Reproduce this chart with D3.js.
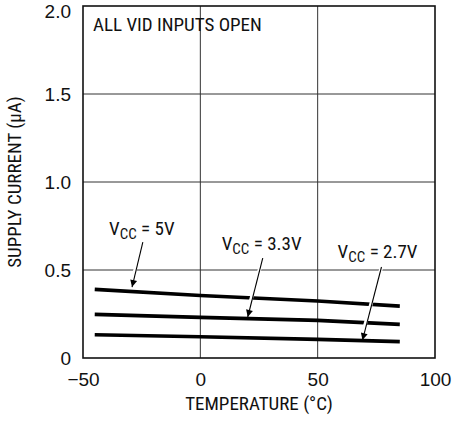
<!DOCTYPE html>
<html>
<head>
<meta charset="utf-8">
<script src="https://cdn.jsdelivr.net/npm/d3@7"></script>
<style>
  html, body { margin: 0; padding: 0; background: #fff; }
  svg text { font-family: "Liberation Sans Narrow", "Arial Narrow", "Roboto Condensed", sans-serif; fill: #111; }
</style>
</head>
<body>
<svg id="chart" width="452" height="421"></svg>
<script>
// ---- data ----
const temps = [-45, 0, 50, 85];
const vcc5 = [0.39, 0.355, 0.324, 0.295];
const vcc33 = [0.248, 0.231, 0.214, 0.191];
const vcc27 = [0.132, 0.121, 0.106, 0.093];
const seriesNames = ["5V", "3.3V", "2.7V"];
const xTicks = [-50, 0, 50, 100];
const yTicks = [0, 0.5, 1.0, 1.5, 2.0];
const yTickLabels = ["0", "0.5", "1.0", "1.5", "2.0"];
const xTickLabels = ["\u221250", "0", "50", "100"];
// annotation anchors in data units: label (temp, current), arrow start, arrow tip
const labelAt = [[-38.9, 0.70], [9.1, 0.614], [58.5, 0.568]];
const arrowFrom = [[-24.5, 0.659], [26.6, 0.568], [77.2, 0.517]];
const arrowTo = [[-29.1, 0.403], [20.2, 0.233], [69.1, 0.102]];

const svg = d3.select("#chart");
const margin = { left: 83, top: 6, right: 17, bottom: 63 };
const W = 452, H = 421;
const x = d3.scaleLinear().domain([-50, 100]).range([margin.left, W - margin.right]);
const y = d3.scaleLinear().domain([0, 2]).range([H - margin.bottom, margin.top]);

// grid
const g = svg.append("g");
g.selectAll("line.vg").data(xTicks.slice(1, -1)).enter().append("line")
  .attr("x1", d => x(d)).attr("x2", d => x(d))
  .attr("y1", y(0)).attr("y2", y(2))
  .attr("stroke", "#333").attr("stroke-width", 1);
g.selectAll("line.hg").data(yTicks.slice(1, -1)).enter().append("line")
  .attr("x1", x(-50)).attr("x2", x(100))
  .attr("y1", d => y(d)).attr("y2", d => y(d))
  .attr("stroke", "#333").attr("stroke-width", 1);

// axes (labels only, via d3 axes)
const xAxis = d3.axisBottom(x).tickValues(xTicks).tickSize(0).tickPadding(15)
  .tickFormat((d, i) => xTickLabels[i]);
svg.append("g").attr("transform", `translate(0,${y(0)})`).call(xAxis)
  .call(s => s.select(".domain").remove())
  .selectAll("text").style("font-size", "19px")
  .style("font-family", "'Liberation Sans Narrow', 'Arial Narrow', sans-serif").attr("fill", "#111");

const yAxis = d3.axisLeft(y).tickValues(yTicks).tickSize(0).tickPadding(12)
  .tickFormat((d, i) => yTickLabels[i]);
svg.append("g").attr("transform", `translate(${x(-50)},0)`).call(yAxis)
  .call(s => s.select(".domain").remove())
  .selectAll("text").style("font-size", "19px")
  .style("font-family", "'Liberation Sans Narrow', 'Arial Narrow', sans-serif").attr("fill", "#111")
  .attr("dy", d => d === 2 ? "0.62em" : "0.32em");

// frame
svg.append("rect")
  .attr("x", x(-50)).attr("y", y(2))
  .attr("width", x(100) - x(-50)).attr("height", y(0) - y(2))
  .attr("fill", "none").attr("stroke", "#111").attr("stroke-width", 1.6);

// series
const line = d3.line().x(d => x(d[0])).y(d => y(d[1]));
[vcc5, vcc33, vcc27].forEach(vals => {
  svg.append("path")
    .datum(temps.map((t, i) => [t, vals[i]]))
    .attr("d", line)
    .attr("fill", "none").attr("stroke", "#000").attr("stroke-width", 3.6);
});

// arrowhead marker
svg.append("defs").append("marker")
  .attr("id", "ah").attr("viewBox", "0 0 10 10").attr("refX", 10).attr("refY", 5)
  .attr("markerWidth", 13).attr("markerHeight", 7).attr("markerUnits", "userSpaceOnUse")
  .attr("orient", "auto")
  .append("path").attr("d", "M0,0 L10,5 L0,10 Z").attr("fill", "#000");

// annotations
seriesNames.forEach((name, i) => {
  const [x1, y1] = arrowFrom[i], [x2, y2] = arrowTo[i];
  svg.append("line")
    .attr("x1", x(x1)).attr("y1", y(y1)).attr("x2", x(x2)).attr("y2", y(y2) - 6)
    .attr("stroke", "#fff").attr("stroke-width", 3.5);
  svg.append("line")
    .attr("x1", x(x1)).attr("y1", y(y1)).attr("x2", x(x2)).attr("y2", y(y2))
    .attr("stroke", "#000").attr("stroke-width", 1.1)
    .attr("marker-end", "url(#ah)");
  const t = svg.append("text")
    .attr("x", x(labelAt[i][0])).attr("y", y(labelAt[i][1]))
    .style("font-size", "19px");
  t.append("tspan").text("V");
  t.append("tspan").text("CC").attr("dy", 4).style("font-size", "15px");
  t.append("tspan").text(" = " + name).attr("dy", -4);
});

// inset note
svg.append("text").attr("x", x(-50) + 10).attr("y", y(2) + 25)
  .style("font-size", "19px").text("ALL VID INPUTS OPEN");

// axis titles
svg.append("text")
  .attr("x", (x(-50) + x(100)) / 2).attr("y", 410)
  .attr("text-anchor", "middle").style("font-size", "19px")
  .text("TEMPERATURE (\u00B0C)");
svg.append("text")
  .attr("transform", `translate(21,${(y(0) + y(2)) / 2}) rotate(-90)`)
  .attr("text-anchor", "middle").style("font-size", "19px")
  .text("SUPPLY CURRENT (\u00B5A)");
</script>
</body>
</html>
